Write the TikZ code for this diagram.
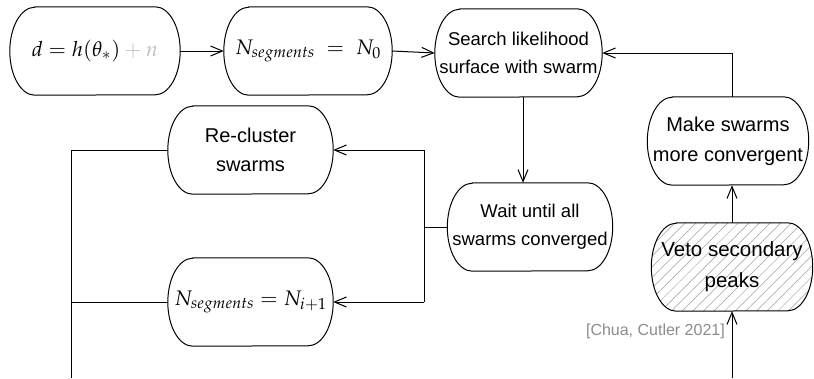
\documentclass[tikz,border=0pt]{standalone}
\usepackage{mathpazo}
\usepackage[no-math]{fontspec}
\setmainfont{Liberation Sans}
\usetikzlibrary{arrows.meta,patterns.meta,backgrounds}

\definecolor{noisegray}{gray}{0.75}
\definecolor{citegray}{gray}{0.55}
\definecolor{hatchgray}{gray}{0.62}

\tikzset{
  wire/.style={line width=1pt, draw=black},
  wirearrow/.style={wire, -{Straight Barb[length=12pt,width=10pt,line width=1pt]}},
  capbox/.style={inner sep=0pt, minimum height=88pt, minimum width=#1, align=center},
  fs/.style n args={2}{font=\fontsize{#1}{#2}\selectfont},
  hatched/.style={pattern={Lines[angle=45,distance=7.5pt,line width=0.5pt]}, pattern color=hatchgray},
}

% outline with half-elliptic ends around a named node
\newcommand\capsule[2][]{%
  \draw[wire,#1] ([xshift=25pt]#2.north west) -- ([xshift=-25pt]#2.north east)
    arc[start angle=90,end angle=-90,x radius=25pt,y radius=44pt]
    -- ([xshift=25pt]#2.south west)
    arc[start angle=270,end angle=90,x radius=25pt,y radius=44pt] -- cycle;}

\begin{document}
\begin{tikzpicture}[x=1pt,y=1pt]
\useasboundingbox (0,0) rectangle (814,-378);

% boxes
\node[capbox=170pt, fs={21}{25}] (n1) at (95,-51)
  {$d = h(\theta_*) \mathbin{\textcolor{noisegray}{+}} \textcolor{noisegray}{n}$};
\node[capbox=168pt, fs={21}{25}] (n2) at (308,-51) {$N_{segments} \;=\; N_0$};
\node[capbox=167pt, fs={18.5}{28}] (n3) at (518.5,-53) {Search likelihood\\surface with swarm};
\node[capbox=161pt, fs={20}{30}] (n4) at (728,-141) {Make swarms\\more convergent};
\node[capbox=161pt, fs={20.5}{31}] (n5) at (732,-267) {Veto secondary\\peaks};
\node[capbox=165pt, fs={18.5}{28}] (n6) at (530,-227) {Wait until all\\swarms converged};
\node[capbox=165pt, fs={20}{29}] (n7) at (250.5,-150) {Re-cluster\\swarms};
\node[capbox=165pt, fs={21}{25}] (n8) at (250.5,-302) {$N_{segments} = N_{i+1}$};

\node[anchor=east, text=citegray, fs={16}{19}, inner sep=0pt] (cite) at (725,-331) {[Chua, Cutler 2021]};

\begin{scope}[on background layer]
  \capsule{n1} \capsule{n2} \capsule{n3} \capsule{n4}
  \capsule[hatched]{n5}
  \capsule{n6} \capsule{n7} \capsule{n8}
\end{scope}

% routing points
\coordinate (x36) at (523,0);
\coordinate (jx) at (424,0);
\coordinate (lx) at (71,-378);
\coordinate (rx) at (732,-378);
\coordinate (tr) at (732,-53);

% connectors
\draw[wirearrow] (n1.east) -- (n2.west);
\draw[wirearrow] (n2.east) -- (n3.west);
\draw[wirearrow] (n3.south -| x36) -- (n6.north -| x36);
\draw[wire] (n6.west) -- (n6.west -| jx);
\draw[wire] (n7.east -| jx) -- (n8.east -| jx);
\draw[wirearrow] (n7.east -| jx) -- (n7.east);
\draw[wirearrow] (n8.east -| jx) -- (n8.east);
\draw[wire] (n7.west) -| (lx);
\draw[wire] (n8.west) -- (n8.west -| lx);
\draw[wirearrow] (rx) -- (n5.south);
\draw[wirearrow] (n5.north) -- (n5.north |- n4.south);
\draw[wirearrow] (n4.north -| tr) |- (n3.east);
\end{tikzpicture}
\end{document}
